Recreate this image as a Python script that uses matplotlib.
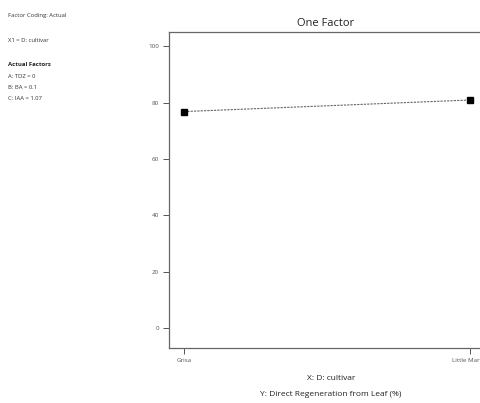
import numpy as np
import matplotlib
matplotlib.use('Agg')
import matplotlib.pyplot as plt

plt.rcParams['font.family'] = ['Open Sans', 'DejaVu Sans']

'''Data'''
categories = ['Grisa', 'Little Marvel']
response = [76.8, 80.9]  # Y: Direct Regeneration from Leaf (%)
yticks = [0, 20, 40, 60, 80, 100]
info_lines = ['Factor Coding: Actual', '', 'X1 = D: cultivar', '']
actual_factors = ['A: TDZ = 0', 'B: BA = 0.1', 'C: IAA = 1.07']

W, H = 481, 403
fig = plt.figure(figsize=(W / 100, H / 100), dpi=100)
ax = fig.add_axes([169 / W, 55 / H, (483 - 169) / W, (348 - 32) / H])

x = np.arange(len(categories))
ax.plot(x, response, color='#666666', lw=0.8, ls=(0, (2, 1)), zorder=2)
ax.plot(x, response, ls='none', marker='s', ms=5, color='black', zorder=3)

ax.set_xlim(-0.0524, 1.045)
ax.set_ylim(-7, 105)
ax.set_xticks(x)
ax.set_xticklabels(categories)
ax.set_yticks(yticks)
ax.tick_params(labelsize=4.5, labelcolor='#555555', color='#555555',
               length=4, width=0.7, pad=3)
for s in ax.spines.values():
    s.set_color('#666666')
    s.set_linewidth(0.9)

ax.set_title('One Factor', fontsize=8, color='#222222', pad=4)

'''Axis titles'''
fig.text(331 / W, 1 - 378 / H, 'X: D: cultivar', fontsize=6, ha='center', va='center', color='#222222')
fig.text(331 / W, 1 - 395 / H, 'Y: Direct Regeneration from Leaf (%)', fontsize=6, ha='center', va='center', color='#222222')

'''Left info panel'''
ypix = 15
for line in info_lines:
    if line:
        fig.text(8 / W, 1 - ypix / H, line, fontsize=4.2, va='center', color='#333333')
    ypix += 12.5
fig.text(8 / W, 1 - 64 / H, 'Actual Factors', fontsize=4.3, va='center', fontweight='bold', color='#222222')
for i, line in enumerate(actual_factors):
    fig.text(8 / W, 1 - (76 + 11.5 * i) / H, line, fontsize=4.2, va='center', color='#333333')

plt.savefig('out.png', dpi=100)
